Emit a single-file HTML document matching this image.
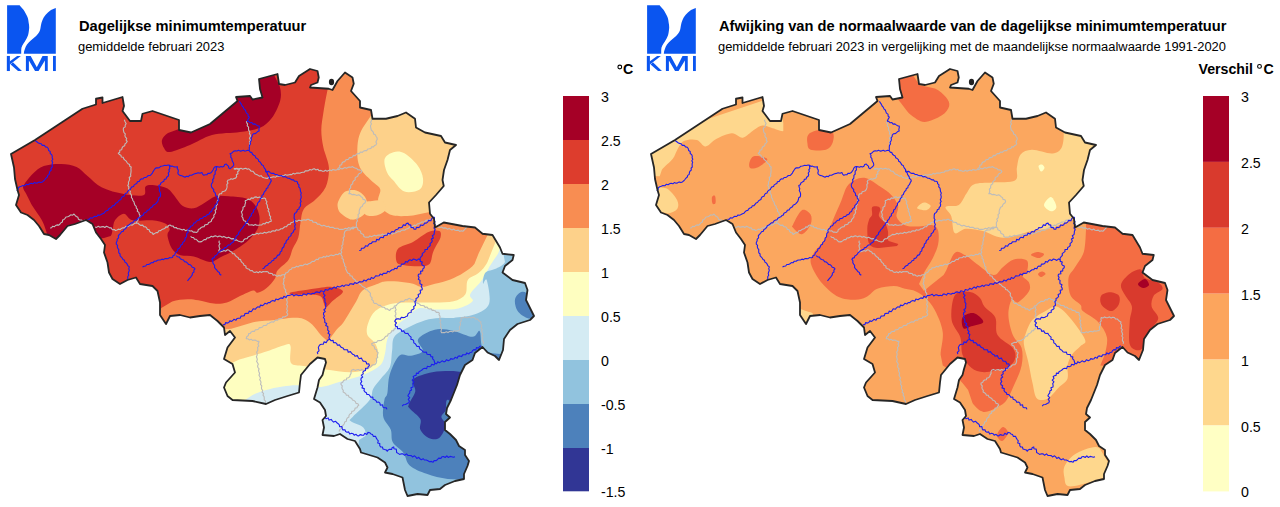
<!DOCTYPE html>
<html><head><meta charset="utf-8">
<style>
html,body{margin:0;padding:0;background:#fff;}
body{width:1280px;height:507px;overflow:hidden;position:relative;font-family:"Liberation Sans",sans-serif;}
svg{position:absolute;left:0;top:0;}
.t{position:absolute;white-space:nowrap;color:#000;}
.b{font-weight:bold;font-size:14.66px;line-height:1;}
.s{font-size:12.92px;line-height:1;}
.lab{position:absolute;font-size:14.2px;line-height:1;white-space:nowrap;}
</style></head><body>
<svg width="1280" height="507" viewBox="0 0 1280 507">
<defs>
<path id="ol" d="M11,154 L35,140 L82.5,108.75 L96,104.5 L96,98.75 L102.5,97.5 L102.5,103 L122.5,97 L124,106 L122.5,111 L130,121 L141,121 L142.5,113.75 L152.5,111 L179,120 L179,130 L191,132.5 L210,124 L237.5,101 L236,97 L250,96 L252.5,99.5 L262.5,97.5 L260,89 L259,79 L277.5,74 L279,84 L285,85 L295,82.5 L299,76 L310,69 L317.5,71 L318.75,77.5 L317.5,82.5 L311,85 L310,87.5 L328.75,88.75 L332.5,90 L337.5,81 L345,72.5 L352.5,77.5 L353.75,83.75 L351,91 L360,101 L360,107.5 L371,110 L372.5,118.75 L386,118.75 L397.5,116 L406,112.5 L415,118.75 L416,127.5 L425,132.5 L441,136 L445,142.5 L456,145 L450,150 L447.5,160 L444,170 L442.5,180 L443.75,186 L436,195 L429,202.5 L430,213.75 L434,218.75 L435,227.5 L443.75,222.5 L462.5,226 L475,227.5 L482.5,233.75 L492.5,235 L500,247.5 L502.5,253.75 L513.75,255 L512.5,260 L505,266 L502.5,272.5 L512.5,280 L525,283 L527.5,290 L526,300 L534,316 L530,320 L517.5,324 L510,330 L504,339 L503,350 L499,360 L495,356 L487.5,352.5 L482.5,347 L475,353 L472.5,360 L465,365 L460,375 L457,385 L455,390 L451,400 L447,408 L446,414 L450,417.5 L445,422 L445,430 L450,434 L456,440 L459,446 L465,450 L465,455 L469,461 L467.5,466 L464,474 L464,479 L455,481 L445,485 L440,489 L430,490 L427.5,495 L417.5,494 L407.5,496 L405,490 L402.5,477.5 L392.5,474 L385,472.5 L387.5,467.5 L385,462.5 L377.5,457.5 L366,454 L361,452.5 L360,449 L355,441 L347.5,439 L340,434 L334,436 L322.5,435 L324,427.5 L322.5,420 L326,416 L325,410 L320,402.5 L314,399 L317.5,387.5 L319,380 L322.5,375 L324,369 L326,362.5 L325,359 L317.5,357.5 L310,364 L301,375 L300,382.5 L299,392.5 L287.5,396 L275,400 L266,404 L252.5,401 L232.5,400 L227.5,396 L224,387.5 L226,382.5 L235,372.5 L232.5,364 L224,359 L227.5,347.5 L235,337.5 L230,331 L225,335 L224,327.5 L217.5,321 L210,315 L200,316 L190,317.5 L180,315 L170,316 L166,324 L160,315 L160,302.5 L157.5,291 L152.5,286 L140,284 L136,277.5 L127.5,280 L120,284 L112.5,279 L109,272.5 L107.5,262.5 L104,252.5 L105,245 L101,239 L96,232.5 L92.5,224 L86,220 L75,224 L67.5,226 L60,235 L56,239 L49,235 L44,234 L39,226 L34,220 L27.5,215 L21,212.5 L16,205 L19,195 L17.5,190 L15,179 L14,167.5 Z"/>
<clipPath id="clip"><use href="#ol"/></clipPath>
<g id="logo" fill="#0a55f0">
<path d="M7.1,5.2 L19.6,5.2 C21,7 22,8 23.3,9.5 C25,12 26,14 27,15.9 C28,18 28.4,20 28.6,22.2 C29,24 29.2,26 29.2,27.6 C29,30 28.8,33 28.1,35 C27.3,37.5 26,39.5 24.9,41.4 C23.8,43 22.8,44.5 22.2,45.7 C21.5,47 21.2,48.5 21.2,50 L21.2,53.7 L7.1,53.7 Z"/>
<path d="M55.8,7.9 C54,8.5 52.5,9 51,10 C49,11.5 47.2,13 45.7,14.8 C44.3,16.5 43.2,18.2 42.5,20.1 C41.7,22 41.2,23.7 40.9,25.4 C40.5,27.5 40.5,29 39.8,30.8 C39,32.8 37.6,34.6 36.1,36.1 C34.5,37.6 32.4,39 30.8,40.4 C29.4,41.7 28,43 27,44.6 C26,46 25.3,47.5 24.9,48.9 C24.3,50.5 23.8,52 23.8,53.7 L55.8,53.7 Z"/>
<rect x="6.84" y="55.94" width="3.06" height="15.09"/>
<path d="M17.1,55.94 L20.84,55.94 L9.9,64.6 L9.9,61.2 Z"/>
<path d="M10.6,64.4 L12.9,62.3 L21.94,71.03 L18.0,71.03 Z"/>
<path d="M25.9,71.03 L25.9,55.94 L30.7,55.94 L36.8,67.3 L42.5,55.94 L47.75,55.94 L47.75,71.03 L44.9,71.03 L44.9,60.5 L38.56,71.03 L35.06,71.03 L28.9,60.5 L28.9,71.03 Z"/>
<rect x="53" y="55.94" width="2.84" height="15.09"/>
</g>
<g id="lines"><g fill="none" stroke="#bcbcbc" stroke-width="1.1" stroke-linejoin="round"><path d="M124.3,119.7 L125.1,121.8 L126.2,123.7 L125.2,125.0 L125.2,126.9 L123.5,127.9 L123.3,129.6 L123.6,131.1 L124.0,132.6 L125.3,133.8 L124.9,135.6 L125.4,137.1 L126.7,138.3 L126.1,140.1 L127.2,141.4 L126.3,142.8 L125.0,143.9 L124.7,145.7 L123.0,146.5 L122.1,147.9 L121.7,149.7 L119.8,150.3 L119.7,152.3 L118.3,153.3 L119.4,154.5 L120.9,155.2 L121.3,157.0 L123.2,157.3 L123.8,159.0 L125.0,160.1 L126.2,161.1 L127.0,162.5 L128.0,163.7 L129.6,164.4 L129.7,166.3 L131.2,167.1 L130.9,168.9 L131.1,170.8 L130.9,172.6 L130.6,174.4 L130.8,176.1 L129.2,177.5 L129.7,179.3 L129.1,180.8 L128.4,182.4 L128.6,184.1 L127.8,185.6 L128.9,186.9 L128.6,188.6 L129.1,190.1 L130.4,191.3 L129.9,193.1 L131.0,194.4 L131.6,195.8 L131.4,197.5 L132.5,198.8 L132.8,200.5 L134.0,201.8 L134.3,203.5 L134.9,205.1 L136.2,206.3 L136.3,208.1 L137.6,209.3 L137.3,211.3 L138.9,212.4 L139.2,214.1 L140.0,215.6 L139.7,217.3 L138.1,218.4 L138.1,220.2 L136.9,221.5 L136.3,223.1"/><path d="M50.0,228.0 L51.6,227.8 L52.6,226.3 L54.5,226.7 L55.6,225.5 L57.0,224.9 L58.8,225.1 L60.0,224.0 L60.9,222.7 L62.4,222.0 L62.6,220.1 L64.0,219.4 L65.1,218.3 L66.0,217.0 L67.7,216.7 L69.3,216.0 L70.7,214.8 L72.6,215.2 L74.0,214.0 L75.1,215.3 L76.3,216.5 L77.9,217.3 L78.4,219.2 L80.0,220.0 L81.5,220.0 L82.9,221.1 L84.6,220.3 L86.0,221.0"/><path d="M95.0,226.9 L96.6,227.4 L98.3,226.3 L99.9,227.2 L101.5,226.9 L103.2,226.6 L104.8,227.5 L106.5,226.3 L108.1,226.9 L109.5,227.9 L111.3,227.9 L112.3,229.7 L114.3,229.5 L115.6,230.6 L117.1,230.0 L118.4,229.1 L120.2,229.5 L121.5,228.4 L122.9,227.7 L124.6,227.9 L125.7,226.3 L127.5,226.6 L129.0,225.9 L130.2,224.7 L132.0,225.2 L133.4,224.2 L134.7,223.3 L136.3,223.1 L138.1,223.2 L139.3,224.6 L140.8,225.4 L142.7,225.1 L143.8,226.8 L145.6,226.9 L146.7,227.9 L147.4,229.4 L149.2,229.7 L149.6,231.4 L150.7,232.5 L152.4,232.9 L153.1,234.4 L154.6,233.6 L156.0,232.6 L157.8,232.6 L158.8,230.8 L160.6,230.6 L161.8,229.6 L163.3,229.0 L164.8,228.5 L165.7,226.9 L167.6,227.1 L168.5,225.6 L170.0,225.0 L171.4,226.0 L173.2,226.1 L174.2,227.8 L176.2,227.5 L177.5,228.8 L179.1,228.8 L180.7,229.2 L182.3,230.0 L184.0,229.3 L185.5,230.7 L187.2,230.0 L188.8,230.6 L190.3,231.0 L191.9,230.8 L193.2,232.1 L194.8,232.0 L196.3,232.5 L197.8,231.6 L198.3,229.6 L200.0,228.8 L201.0,227.6 L202.4,226.9 L204.1,226.8 L204.7,225.0 L206.2,224.6 L207.8,224.3 L208.6,222.6 L210.0,222.1 L211.3,221.3 L211.7,219.6 L212.8,218.3 L214.0,217.0 L213.8,215.1 L215.0,213.8 L215.7,212.3 L215.1,210.5 L216.4,209.2 L216.2,207.5 L216.1,205.9 L217.4,204.5 L217.1,202.8 L217.3,201.2 L218.4,199.8 L217.7,198.0 L218.8,196.6 L218.8,195.0 L219.8,193.7 L221.6,193.6 L222.2,191.7 L223.9,191.3 L225.4,190.8 L226.3,189.4 L226.9,187.9 L227.1,186.3 L226.8,184.6 L228.0,183.2 L227.2,181.5 L228.1,180.0 L229.7,179.8 L231.0,178.7 L232.7,179.2 L234.1,178.5 L235.6,178.1 L236.7,176.7 L236.3,174.8 L238.0,173.7 L237.6,171.7 L239.1,170.5 L239.4,168.8 L237.5,169.0 L235.7,168.6 L233.8,168.8"/><path d="M233.8,168.8 L235.3,169.1 L236.8,168.2 L238.3,169.3 L239.8,168.6 L241.3,168.4 L242.8,169.3 L244.3,168.6 L245.8,168.3 L247.3,169.3 L248.8,168.8 L250.0,169.8 L251.0,171.1 L252.8,171.2 L253.9,172.4 L254.8,173.8 L256.3,174.4 L257.8,175.1 L259.2,176.1 L261.2,175.7 L262.4,177.2 L264.0,177.7 L265.6,178.1 L267.3,178.5 L268.8,177.1 L270.6,177.7 L272.2,177.1 L273.8,176.7 L275.6,177.2 L277.1,175.9 L278.8,176.3 L280.4,176.0 L282.0,175.6 L283.7,175.9 L285.1,174.6 L286.9,175.3 L288.4,174.9 L290.0,174.4 L291.7,174.7 L293.1,173.3 L294.9,174.1 L296.4,173.1 L298.1,173.0 L299.8,173.3 L301.3,172.5 L302.8,172.2 L304.3,172.1 L305.5,170.7 L307.1,170.9 L308.6,170.7 L309.9,169.5 L311.6,170.1 L312.9,169.1 L314.4,168.8 L315.8,169.9 L317.8,169.2 L319.1,170.8 L321.0,170.4 L322.5,171.3 L324.0,171.3 L325.4,170.3 L327.1,171.2 L328.5,170.4 L329.9,169.9 L331.6,170.7 L332.9,169.5 L334.5,169.9 L336.1,170.1 L337.5,169.4 L338.3,168.1 L339.7,167.2 L339.8,165.3 L341.7,164.7 L342.0,163.0 L343.1,161.9 L344.7,161.7 L345.6,160.1 L347.0,159.6 L348.6,159.3 L349.4,157.6 L351.1,157.6 L352.5,156.9 L353.4,155.4 L355.2,155.6 L356.3,154.4 L357.6,153.5 L359.4,153.6 L360.4,152.0 L362.3,152.4 L363.5,151.2 L365.0,150.5 L366.7,150.6 L367.8,149.0 L369.4,148.8 L370.9,148.4 L371.7,146.8 L373.5,146.9 L374.5,145.5 L375.9,145.0 L376.7,143.6 L375.9,141.9 L376.6,140.5 L377.3,139.1 L376.9,137.5 L376.0,136.2 L375.3,134.8 L373.6,134.1 L373.4,132.3 L372.4,131.1 L371.3,130.0 L370.6,127.1 L370.5,125.5 L371.5,124.0 L370.6,122.3 L371.5,120.8 L371.6,119.2"/><path d="M246.4,121.1 L246.7,122.7 L247.6,124.1 L247.2,125.9 L248.6,127.1 L248.5,128.8 L248.7,130.4 L249.9,131.8 L249.4,133.6 L250.3,135.0 L250.3,136.7 L249.4,138.3 L250.5,140.1 L249.4,141.7 L249.7,143.4 L249.5,145.1 L249.3,146.8"/><path d="M245.0,200.6 L246.6,200.2 L248.1,199.1 L250.0,199.6 L251.3,197.9 L253.2,198.4 L254.6,197.1 L256.3,196.9 L257.7,197.8 L259.5,197.0 L260.9,198.1 L262.4,198.5 L264.2,197.9 L265.6,198.8 L265.8,200.3 L266.9,201.7 L266.2,203.4 L267.2,204.8 L267.5,206.3 L267.5,207.9 L268.8,209.2 L268.1,210.9 L269.2,212.3 L269.4,213.8 L269.5,215.4 L270.7,216.7 L270.2,218.4 L271.1,219.8 L271.3,221.3 L269.6,221.6 L268.3,222.9 L266.3,222.3 L265.0,223.9 L263.1,223.5 L261.8,224.9 L260.0,225.0 L258.4,225.2 L256.8,225.3 L255.2,224.4 L253.6,225.5 L252.0,224.7 L250.4,225.0 L248.8,225.0 L248.0,223.5 L246.1,223.2 L245.7,221.3 L244.0,220.8 L243.1,219.4 L242.9,217.9 L241.8,216.5 L242.4,214.8 L241.9,213.3 L241.3,211.9 L242.4,210.6 L243.0,209.0 L243.0,207.2 L244.8,206.2 L245.0,204.4 L245.6,202.5 L245.0,200.6"/><path d="M190.6,236.3 L191.8,237.4 L193.5,237.5 L194.4,239.1 L196.1,239.3 L197.3,240.3 L198.4,241.6 L200.0,241.9 L201.6,241.6 L202.9,240.6 L204.1,239.6 L205.9,239.6 L206.9,238.0 L208.6,237.9 L210.0,237.2 L211.3,236.3 L212.9,236.9 L214.4,236.1 L215.9,235.9 L217.5,236.9 L219.1,236.0 L220.6,236.3 L222.1,237.2 L223.8,236.4 L225.3,237.2 L226.8,238.0 L228.5,237.3 L230.0,238.1 L231.5,238.9 L233.4,238.6 L234.7,240.3 L236.6,239.9 L238.0,240.9 L239.6,241.5 L241.3,241.9 L243.0,241.5 L243.9,239.8 L245.3,238.8 L247.2,238.6 L248.1,236.9 L249.7,236.3 L251.2,235.4 L252.5,234.4 L254.1,234.6 L255.5,234.2 L256.9,233.2 L258.6,234.1 L260.0,233.1 L261.5,233.2 L263.0,233.4 L264.4,232.3 L266.1,233.1 L267.5,232.5 L268.9,231.7 L270.6,232.3 L271.9,231.1 L273.4,230.7 L275.1,231.2 L276.4,229.7 L278.1,230.3 L279.6,229.7 L280.9,228.7 L282.5,228.8 L283.6,227.7 L284.8,226.8 L286.6,226.8 L287.4,225.3 L288.7,224.4 L290.4,224.3 L291.0,222.5 L292.7,222.3 L293.8,221.3 L295.2,220.5 L296.9,221.5 L298.3,220.4 L299.8,220.2 L301.4,220.9 L302.8,220.0 L304.3,219.7 L305.9,220.3 L307.3,219.2 L308.8,219.4 L310.1,220.5 L312.0,220.4 L313.0,222.1 L314.7,222.3 L316.4,222.6 L317.4,224.3 L319.3,224.1 L320.6,225.2 L322.1,226.0 L323.8,225.3 L325.3,226.0 L326.8,226.7 L328.5,226.2 L329.9,227.5 L331.5,227.4 L333.2,227.3 L334.6,228.5 L336.2,228.3 L337.8,228.2 L339.2,229.5 L340.9,229.2 L342.5,229.4 L344.0,228.9 L345.4,228.2 L347.1,229.0 L348.5,227.6 L350.1,228.3 L351.6,227.8 L353.1,227.0 L354.7,227.7 L356.2,227.2 L357.6,228.0 L357.8,229.8 L359.4,230.4 L360.6,231.4 L360.8,233.2 L362.3,233.9 L363.6,234.8 L363.9,236.6 L365.3,237.3 L366.8,237.0 L368.4,237.3 L369.8,236.0 L371.5,236.8 L372.9,236.1 L374.4,235.2 L376.1,236.1 L377.5,235.3 L379.1,235.1 L380.8,235.3 L382.3,234.1 L384.1,235.1 L385.6,234.2 L387.3,234.1 L389.0,234.4 L390.5,233.1 L392.2,234.1 L393.8,233.3 L395.4,233.0 L396.8,232.3 L398.2,231.4 L400.0,231.8 L401.3,230.4 L402.8,229.9 L404.6,230.2 L405.9,229.2 L407.4,228.8 L408.8,228.0 L410.0,226.9 L411.8,227.2 L413.0,226.0 L414.3,225.1 L416.1,225.5 L417.2,224.0 L418.7,223.6 L420.2,223.1 L421.5,222.1 L423.1,222.0 L424.7,221.9 L425.8,220.4 L427.4,220.1 L429.1,220.2 L430.3,219.1"/><path d="M337.5,169.4 L339.1,169.6 L340.4,168.3 L342.1,169.0 L343.5,168.2 L344.9,167.6 L346.6,168.3 L348.0,167.4 L349.5,167.0 L351.1,167.3 L352.5,166.6 L353.7,167.5 L355.1,168.1 L356.7,168.2 L357.6,169.8 L359.3,169.9 L360.8,170.2 L361.9,171.3 L361.1,172.8 L359.5,173.4 L358.3,174.4 L357.8,176.2 L356.3,176.9 L355.1,178.0 L355.2,179.9 L353.7,180.8 L352.7,182.1 L352.7,183.9 L351.2,184.8 L350.6,186.3 L350.7,187.9 L349.3,189.2 L349.8,190.9 L349.5,192.4 L348.8,193.8 L350.5,193.5 L351.9,194.7 L353.6,194.4 L355.2,194.8 L356.8,195.4 L358.5,194.8 L360.0,195.6 L361.1,196.7 L362.5,197.6 L363.0,199.4 L364.9,199.7 L365.6,201.3 L365.1,202.8 L363.6,203.7 L362.7,205.0 L362.2,206.6 L360.5,207.2 L360.0,208.8 L359.3,210.2 L359.1,211.8 L359.4,213.4 L358.0,214.7 L358.3,216.3 L358.1,217.9 L356.8,219.2 L357.5,220.9 L356.5,222.3 L356.3,223.8 L356.5,225.5 L356.2,227.2"/><path d="M356.2,227.2 L354.4,227.3 L353.2,228.9 L351.2,228.4 L350.0,230.0 L348.2,230.0 L346.5,230.3 L345.0,231.3 L344.4,232.9 L344.1,234.6 L344.4,236.4 L343.1,237.9 L343.7,239.8 L343.0,241.4 L342.8,242.9 L343.0,244.5 L341.7,245.9 L342.3,247.6 L341.8,249.1 L340.9,250.5 L341.8,252.2 L340.9,253.6 L341.2,255.2 L342.3,256.5 L341.9,258.4 L343.4,259.5 L343.3,261.3 L343.8,262.8 L344.7,264.2 L344.6,265.9 L346.0,267.1 L345.6,269.0 L346.5,270.4 L347.0,271.9 L348.0,273.2 L349.7,273.8 L350.1,275.8 L352.1,276.1 L352.7,277.9 L353.9,279.0 L355.2,280.0 L356.0,281.5 L357.9,281.7 L358.8,283.0 L359.8,284.3 L361.3,285.0 L362.2,286.3 L363.6,287.1 L365.1,287.8 L365.6,289.5 L367.3,289.9 L368.3,291.1 L369.4,292.2 L370.5,293.4 L370.2,295.2 L370.9,296.6 L372.2,297.8 L371.7,299.6 L373.3,300.7 L373.4,302.3 L374.5,303.5 L376.2,303.4 L377.5,304.4 L378.7,305.4 L380.4,305.2 L381.4,306.7 L382.8,307.3 L384.5,307.3 L385.4,309.0 L387.1,308.8 L388.4,309.7 L389.7,310.5 L390.6,309.1 L392.3,308.5 L393.8,307.8 L394.4,306.0 L396.2,305.6 L397.2,304.2 L398.4,303.2 L399.8,302.3 L401.1,301.3 L402.8,301.4 L404.3,300.9 L405.4,299.5 L407.3,299.9 L408.4,298.6 L410.0,298.3"/><path d="M219.4,240.6 L218.9,242.2 L220.0,243.8 L219.0,245.4 L219.2,247.1 L219.9,248.7 L218.8,250.3 L219.4,251.9 L221.0,251.8 L222.5,251.3 L224.0,250.5 L225.8,251.2 L227.1,249.9 L228.8,250.0 L230.0,251.3 L231.7,251.9 L232.5,253.6 L234.5,253.8 L235.3,255.5 L236.6,256.7 L238.1,257.5 L238.7,259.1 L240.6,259.6 L241.1,261.3 L242.2,262.6 L243.5,263.6 L244.0,265.3 L245.9,265.9 L246.0,267.9 L247.5,268.8 L249.2,269.2 L250.2,270.8 L252.2,270.5 L253.4,272.0 L255.0,272.5 L256.6,271.8 L258.3,272.8 L259.8,271.5 L261.5,272.5 L263.0,271.5 L264.7,271.7 L266.3,271.6 L267.9,271.7 L268.9,273.3 L270.5,273.4 L272.1,273.5 L273.1,275.1 L274.8,274.8 L276.1,275.8 L277.5,276.3 L278.9,275.4 L280.6,276.0 L281.9,274.9 L283.5,274.7 L285.0,274.4 L285.8,272.9 L287.6,272.5 L288.6,271.1 L289.6,269.7 L291.3,269.3 L292.2,267.8 L293.8,267.8 L295.2,267.4 L296.5,266.2 L298.2,266.9 L299.5,265.7 L301.0,265.4 L302.7,265.8 L303.9,264.7 L305.3,264.1 L307.1,264.7 L308.4,263.8 L309.9,263.3 L311.1,262.5 L312.2,261.3 L314.0,261.5 L315.2,260.4 L316.3,259.3 L318.2,259.6 L319.0,258.0 L320.6,257.7 L322.2,257.7 L323.6,256.5 L325.4,257.3 L326.7,255.9 L328.5,256.5 L329.9,255.6 L331.4,255.0 L333.2,255.7 L334.7,255.0 L336.1,254.2 L337.9,254.8 L339.2,253.4 L340.9,253.6"/><path d="M285.0,274.4 L284.5,275.9 L284.9,277.6 L283.5,279.0 L284.0,280.7 L283.6,282.3 L283.1,283.8 L284.2,285.2 L284.0,287.1 L284.5,288.7 L285.8,290.0 L285.4,291.9 L286.6,293.3 L286.9,295.0 L286.5,296.6 L287.5,298.2 L286.5,299.8 L287.1,301.3 L287.3,302.9 L286.5,304.5 L287.6,306.1 L287.1,307.7 L286.7,309.3 L287.6,310.8 L286.6,312.4 L287.8,314.0 L287.2,315.6 L285.8,316.2 L284.5,317.0 L282.9,316.9 L281.9,318.5 L280.3,318.5 L278.7,318.7 L277.7,320.2 L276.0,320.0 L274.7,320.8 L273.6,322.1 L271.8,321.8 L270.4,322.4 L269.2,323.3 L267.6,323.5 L266.7,325.1 L265.2,325.5 L263.5,325.5 L262.5,327.0 L261.1,327.6 L259.4,327.6 L258.4,329.2 L256.9,329.6 L255.3,329.8 L254.4,331.4 L252.7,331.3 L251.3,331.9 L250.3,333.4 L248.7,333.6 L248.4,335.5 L246.7,336.8 L246.2,338.7 L247.8,338.8 L249.3,339.9 L251.1,339.2 L252.5,340.4 L254.3,340.0 L255.9,340.4 L257.3,341.4 L259.0,341.3 L258.7,342.8 L258.0,344.3 L258.8,346.0 L257.5,347.4 L257.8,349.0 L257.7,350.6 L256.6,352.0 L257.2,353.7 L257.1,355.2 L256.4,356.7 L257.0,358.2 L257.3,359.7 L256.6,361.4 L257.5,362.8 L258.3,364.3 L257.6,365.9 L257.9,367.5 L259.1,368.8 L258.5,370.5 L259.0,372.0 L259.6,373.5 L259.0,375.2 L259.7,376.6 L260.5,378.1 L259.7,379.8 L260.7,381.2 L261.0,382.7 L260.5,384.4 L261.8,385.8 L261.5,387.4 L261.6,389.0 L262.7,390.4 L262.1,392.2 L263.6,393.4 L263.0,395.2 L264.1,396.6 L264.3,398.1 L264.2,399.8 L265.6,401.1 L265.4,402.8"/><path d="M395.6,306.6 L395.3,308.2 L396.2,309.7 L395.0,311.3 L395.8,312.8 L395.9,314.4 L395.0,315.9 L396.0,317.5 L395.8,319.1 L395.0,320.6 L396.0,322.2 L395.5,323.7 L395.2,325.3 L396.2,326.8 L395.6,328.4 L394.2,329.1 L393.6,330.8 L391.6,330.9 L391.0,332.6 L389.7,333.4 L388.1,334.0 L387.6,335.9 L385.9,336.2 L384.8,337.3 L384.0,338.8 L382.5,339.4 L381.2,340.5 L379.4,340.6 L377.6,340.8 L376.5,342.5 L374.6,342.2 L373.1,343.0 L371.6,343.8 L372.2,345.3 L373.9,346.0 L374.5,347.4 L374.9,349.1 L376.7,349.7 L376.7,351.6 L378.1,352.5 L377.7,354.0 L377.2,355.5 L377.8,357.3 L376.3,358.6 L376.7,360.3 L376.5,361.9 L376.0,363.4 L374.9,364.7 L373.1,364.8 L371.7,365.6 L370.7,367.0 L368.8,367.0 L368.0,368.8 L366.2,368.9 L365.0,370.0 L363.4,370.3 L361.7,369.4 L360.1,370.5 L358.4,369.6 L356.8,369.8 L355.2,370.4 L353.5,369.4 L351.9,370.0 L351.0,371.5 L351.1,373.4 L350.2,374.9 L349.7,376.6 L348.6,377.7 L346.9,378.0 L346.3,379.8 L344.5,380.0 L343.3,381.0 L342.6,382.6 L341.0,383.1 L341.1,384.6 L342.3,385.9 L341.9,387.5 L342.3,389.0 L343.3,390.3 L343.1,391.9 L344.5,392.7 L345.7,393.6 L346.4,395.2 L348.3,395.3 L349.0,397.1 L350.4,397.7 L351.8,398.5 L352.5,400.1 L354.1,400.6 L355.4,401.6 L356.0,403.4 L357.9,403.8 L358.8,405.3 L357.5,406.2 L357.0,407.8 L355.1,408.1 L354.7,409.9 L353.5,411.0 L351.8,411.4 L351.5,413.3 L350.0,414.0 L349.0,415.3 L348.9,417.1 L347.3,418.0 L346.5,419.4 L346.4,421.2 L344.7,422.0 L344.3,423.7 L343.4,425.0 L342.1,426.0 L342.1,427.9 L340.8,428.9 L339.5,430.0 L339.1,431.6"/><path d="M410.0,298.3 L411.2,299.5 L413.1,299.6 L413.8,301.4 L415.8,301.4 L416.7,302.9 L418.4,303.4 L419.7,304.4 L420.9,305.5 L422.6,305.5 L424.1,305.9 L425.1,307.4 L427.0,307.0 L428.0,308.4 L429.5,309.0 L431.2,308.8 L432.2,310.4 L433.9,310.4 L435.3,310.9 L436.3,312.4 L438.1,312.2 L439.4,313.1 L439.0,314.7 L440.0,316.1 L440.0,317.6 L439.5,319.2 L440.8,320.6 L440.0,322.2 L440.6,323.7 L441.0,325.2 L440.4,326.8 L441.5,328.2 L441.4,329.7 L440.9,331.3 L441.6,332.8 L443.2,332.6 L444.8,332.6 L446.3,331.7 L448.0,332.6 L449.5,331.5 L451.1,331.3 L452.8,331.9 L454.3,330.8 L455.9,331.2 L457.5,330.8 L459.1,330.6 L459.9,329.1 L459.3,327.3 L460.1,325.7 L460.6,324.1 L459.9,322.3 L461.3,320.9 L460.9,319.1 L461.3,317.5 L462.9,318.1 L464.6,316.9 L466.2,317.8 L467.9,317.6 L469.5,316.9 L471.1,318.1 L472.8,317.2 L474.4,317.5 L475.4,318.9 L477.2,319.0 L478.4,320.1 L479.5,321.3 L481.0,321.9 L480.6,323.5 L481.6,325.0 L481.6,326.6 L481.0,328.2 L482.3,329.7 L481.6,331.3 L482.1,332.8 L482.7,334.4 L481.8,336.0 L482.9,337.5 L482.5,339.1 L482.4,340.7 L483.5,342.2 L483.1,343.8"/><path d="M434.0,226.0 L435.4,226.9 L437.1,226.0 L438.5,227.3 L440.0,227.5 L441.7,226.9 L443.0,228.1 L444.6,227.9 L446.1,228.1 L447.5,229.2 L449.2,228.4 L450.6,229.2 L452.0,229.9 L453.8,229.1 L455.1,230.3 L456.7,230.5 L458.3,230.1 L459.7,231.4 L461.3,230.8 L462.8,231.3 L464.2,230.0 L465.5,228.5 L466.9,227.2"/></g><g fill="none" stroke="#1c1cf0" stroke-width="1.1" stroke-linejoin="round"><path d="M34.5,140.4 L36.2,141.3 L37.7,142.5 L39.4,143.4 L41.2,143.8 L42.3,145.4 L44.3,145.3 L45.5,146.9 L47.3,147.3 L48.3,148.7 L48.6,150.5 L50.2,151.5 L50.2,153.5 L51.7,154.6 L52.3,156.2 L52.1,157.7 L52.8,159.3 L51.8,160.8 L52.7,162.4 L52.1,163.9 L52.2,165.5 L52.3,167.0 L51.1,168.2 L51.3,170.1 L49.9,171.2 L49.4,172.7 L49.2,174.4 L47.7,175.4 L47.3,177.0 L46.0,178.1 L44.9,179.5 L43.8,180.8 L42.4,181.9 L40.9,182.6 L39.1,181.9 L37.6,182.9 L36.0,183.2 L34.3,182.6 L32.9,183.8 L31.1,183.2 L29.6,183.8 L28.1,184.7 L26.2,184.3 L24.8,185.8 L22.9,185.5 L21.3,186.3 L19.7,186.8 L18.3,187.8 L18.1,189.7 L16.8,190.7"/><path d="M87.5,219.4 L89.2,219.3 L90.3,217.8 L92.2,218.1 L93.5,217.1 L94.9,216.3 L96.7,216.5 L97.8,215.1 L99.6,215.2 L101.1,214.6 L102.5,213.8 L104.0,213.2 L105.0,211.9 L106.1,210.8 L107.8,210.4 L108.6,208.9 L110.0,208.1 L111.5,207.6 L112.2,205.9 L114.0,205.7 L115.0,204.4 L116.0,203.1 L117.5,202.5 L118.3,201.2 L119.4,200.2 L120.9,199.5 L121.4,197.8 L122.4,196.7 L124.0,196.2 L124.6,194.6 L125.5,193.5 L127.1,192.9 L127.6,191.3 L128.8,190.3 L130.3,189.6 L130.9,188.1 L131.9,186.9 L133.6,186.5 L134.2,184.9 L135.5,184.1 L136.9,183.4 L137.4,181.7 L139.2,181.4 L140.0,180.0 L141.2,178.9 L143.0,179.0 L144.1,177.5 L145.8,177.5 L147.1,176.6 L148.3,175.5 L150.1,175.5 L151.3,174.4 L152.4,173.1 L153.1,171.6 L154.0,170.2 L155.0,168.8 L156.3,167.8 L158.1,167.9 L159.6,167.4 L160.9,166.2 L162.5,166.0 L164.3,165.4 L166.3,165.5 L168.1,165.0 L169.6,165.3 L170.8,166.4 L172.5,166.1 L173.8,166.9 L175.7,167.0 L177.5,166.9 L177.2,168.5 L178.2,169.9 L178.3,171.4 L177.8,173.0 L178.4,174.4 L179.9,175.4 L181.8,175.7 L183.4,176.4 L185.0,177.2 L186.5,176.2 L188.4,176.6 L189.7,175.2 L191.5,175.2 L193.0,174.4 L194.6,173.7 L196.3,173.4 L198.1,172.7 L200.1,173.3 L201.9,172.5 L202.6,174.1 L203.8,175.3 L205.3,174.7 L207.0,174.6 L208.1,173.2 L209.9,173.4 L211.3,172.5 L212.3,171.2 L213.2,169.7 L213.8,168.1 L215.0,166.9 L216.5,166.5 L218.0,166.7 L219.5,167.3 L221.0,166.4 L222.5,166.9 L223.9,166.2 L224.7,164.6 L226.3,164.0 L227.2,165.3 L228.5,166.1 L228.7,167.9 L230.0,168.8 L231.3,167.6 L232.8,166.5 L233.8,165.0 L233.5,163.3 L232.7,161.8 L232.0,160.2 L231.9,158.5 L230.7,157.1 L231.0,155.3 L230.0,153.8 L231.5,153.3 L232.7,152.2 L233.9,151.1 L235.5,150.7 L237.0,151.0 L238.6,150.2 L240.1,151.1 L241.6,150.9 L243.2,150.3 L244.7,151.1 L246.2,150.8 L247.8,150.2 L249.3,150.7"/><path d="M239.4,101.4 L240.4,102.9 L241.4,104.4 L242.1,106.0 L243.4,107.3 L243.9,108.9 L245.3,110.0 L245.9,111.6 L246.4,113.1 L248.0,114.1 L248.1,116.0 L249.3,117.2 L248.2,119.1 L247.3,121.1 L248.9,121.5 L250.1,122.8 L251.9,122.5 L253.1,124.1 L254.9,123.9 L256.2,124.9 L257.6,125.8 L259.2,126.1 L259.3,127.7 L258.8,129.4 L259.2,131.0 L257.7,131.6 L256.5,132.7 L255.2,133.6 L253.4,133.8 L252.3,135.0 L252.2,136.5 L251.1,137.8 L251.4,139.5 L251.0,141.0 L250.1,142.3 L250.5,144.0 L249.5,145.3 L249.3,146.8 L249.3,148.8 L249.3,150.7"/><path d="M249.3,150.7 L250.1,152.1 L251.9,152.6 L252.5,154.3 L253.8,155.3 L255.2,156.1 L255.7,157.8 L257.2,158.6 L258.4,159.6 L258.7,161.3 L260.1,162.1 L261.0,163.3 L261.6,164.8 L263.2,165.4 L263.8,166.9 L264.6,168.4 L265.6,169.7 L265.6,171.6 L267.2,172.7 L267.5,174.4 L268.4,175.6 L269.2,176.9 L269.4,178.5 L270.8,179.4 L271.3,180.9 L270.2,182.7 L269.4,184.7 L268.1,185.8 L267.9,187.7 L266.3,188.6 L265.9,190.4 L264.6,191.5 L263.8,193.0 L263.4,194.5 L261.9,195.4 L261.9,197.2 L260.7,198.2 L260.0,199.6 L259.7,201.2 L258.3,202.2 L257.5,203.5 L257.4,205.2 L256.3,206.3 L255.7,207.7 L255.1,209.1 L253.6,210.0 L253.6,211.7 L252.7,212.9 L251.4,213.9 L251.4,215.7 L250.0,216.6 L249.5,218.1 L248.8,219.4 L247.5,220.5 L247.2,222.3 L245.5,223.1 L245.1,224.9 L243.8,225.9 L243.0,227.4 L242.0,228.7 L240.7,229.8 L240.0,231.3 L238.7,232.5 L238.4,234.3 L237.1,235.4 L236.0,236.7 L235.7,238.6 L234.0,239.4 L233.8,241.3 L232.5,242.5 L231.1,243.3 L230.2,244.8 L228.4,245.0 L227.2,246.2 L226.1,247.4 L224.4,247.8 L223.6,249.4 L221.9,249.9 L220.5,250.7 L219.4,251.9 L218.1,252.7 L217.4,254.1 L216.2,255.2 L214.8,255.9 L214.4,257.6 L212.7,258.1 L211.9,259.4 L212.9,260.8 L212.8,262.7 L213.7,264.1 L214.7,265.5 L214.5,267.4 L215.6,268.8 L216.8,270.0 L217.7,271.5 L219.4,272.4 L219.8,274.3 L221.3,275.3"/><path d="M265.6,170.6 L267.0,171.6 L268.9,171.4 L270.2,172.7 L271.8,173.4 L273.6,173.3 L275.0,174.4 L276.7,174.5 L278.2,175.3 L279.8,175.7 L281.6,175.6 L283.0,176.9 L284.7,176.5 L286.3,177.2 L287.5,178.2 L289.2,178.2 L290.5,178.9 L291.8,179.9 L293.5,179.7 L294.5,181.2 L296.1,181.3 L297.5,181.9 L297.6,183.7 L299.0,184.9 L298.7,186.8 L300.0,188.2 L300.3,189.9 L300.5,191.6 L301.3,193.1 L300.7,194.7 L301.2,196.4 L301.1,198.1 L300.3,199.7 L301.2,201.4 L300.1,203.0 L300.7,204.7 L300.3,206.3 L299.2,207.4 L299.0,209.1 L297.3,209.8 L297.0,211.4 L296.0,212.6 L294.7,213.5 L294.2,215.0 L294.2,216.6 L294.1,218.2 L295.0,219.7 L294.3,221.3 L294.6,222.9 L295.4,224.4 L294.6,226.1 L295.0,227.6 L295.2,229.2 L293.9,230.1 L293.5,231.7 L292.5,232.9 L291.2,233.8 L291.0,235.6 L289.8,236.6 L288.5,237.5 L288.3,239.2 L286.9,240.1 L286.1,241.4 L285.9,243.0 L284.4,243.9 L284.2,245.5 L283.7,247.0 L282.4,248.0 L281.9,249.5 L281.7,251.1 L280.2,252.0 L280.0,253.6 L279.1,254.9 L277.4,255.4 L276.8,256.9 L275.8,258.1 L274.1,258.5 L273.7,260.3 L272.0,260.7 L271.2,262.1 L270.0,263.1 L268.4,263.7 L267.7,265.2 L266.2,265.8 L264.9,266.8 L264.0,268.2 L262.5,268.8"/><path d="M170.0,165.0 L169.5,166.6 L169.9,168.3 L168.7,169.8 L169.4,171.5 L168.2,173.0 L168.7,174.7 L168.1,176.3 L166.6,177.2 L166.1,179.0 L164.3,179.4 L163.8,181.3 L162.3,182.1 L160.9,183.0 L160.3,184.8 L158.8,185.6 L159.2,187.2 L159.8,188.6 L159.3,190.4 L160.0,191.9 L160.5,193.4 L160.6,195.0 L160.3,196.7 L158.7,197.8 L158.4,199.5 L157.9,201.1 L156.9,202.5 L155.8,203.6 L154.7,204.6 L153.1,205.2 L152.5,206.7 L151.1,207.5 L149.9,208.4 L149.1,209.9 L147.3,210.2 L146.7,211.8 L145.4,212.6 L143.9,213.2 L143.4,215.0 L141.9,215.6 L140.8,216.8 L139.2,217.4 L137.8,218.2 L137.0,219.8 L135.2,220.1 L133.9,221.0 L133.0,222.6 L131.3,222.9 L130.1,224.0 L128.8,225.0 L127.3,225.8 L126.6,227.5 L125.4,228.7 L123.9,229.5 L123.3,231.2 L121.5,231.8 L120.6,233.3 L119.4,234.4 L118.3,235.8 L118.6,237.8 L117.2,239.1 L117.1,241.0 L116.3,242.5 L116.3,244.1 L117.6,245.3 L117.3,246.9 L117.8,248.4 L118.8,249.6 L118.7,251.3 L118.8,252.8 L120.1,254.0 L120.0,255.6 L121.1,256.8 L122.2,258.0 L123.0,259.5 L124.5,260.3 L124.9,262.1 L126.4,263.0 L127.3,264.4 L128.0,265.9 L129.4,266.9 L128.7,268.5 L129.3,270.2 L128.8,271.8 L128.2,273.4 L128.7,275.2 L127.7,276.7 L127.8,278.4 L127.5,280.0"/><path d="M216.9,166.9 L216.2,168.3 L216.5,169.9 L215.2,171.1 L215.1,172.6 L215.2,174.2 L213.9,175.4 L213.9,177.0 L213.7,178.5 L212.5,179.7 L213.0,181.4 L212.3,182.8 L211.4,184.1 L211.3,185.6 L211.7,187.1 L212.6,188.4 L213.7,189.5 L213.6,191.3 L214.8,192.4 L215.5,193.7 L215.6,195.4 L217.2,196.3 L217.2,198.0 L218.1,199.2 L218.8,200.6 L217.5,201.7 L217.1,203.4 L215.9,204.5 L214.8,205.7 L214.5,207.5 L213.0,208.4 L212.1,209.8 L211.6,211.4 L209.9,212.2 L209.4,213.8 L208.1,214.6 L206.6,215.0 L205.7,216.5 L204.0,216.5 L202.9,217.7 L201.7,218.5 L200.0,218.6 L199.2,220.2 L197.5,220.3 L196.3,221.3 L195.5,222.7 L193.9,223.1 L193.2,224.6 L192.3,225.8 L190.6,226.3 L190.0,227.8 L188.8,228.8 L187.9,230.3 L188.2,232.2 L186.8,233.5 L186.6,235.2 L186.5,236.9 L185.1,238.2 L185.0,240.0 L184.2,241.4 L182.8,242.4 L182.5,244.2 L180.9,245.1 L180.3,246.7 L179.5,248.2 L177.8,249.0 L177.6,250.8 L176.3,251.9 L175.2,253.2 L174.8,254.9 L173.0,255.8 L172.5,257.5 L171.0,257.8 L169.4,257.6 L168.1,258.7 L166.5,258.5 L164.9,258.6 L163.6,259.6 L161.9,259.1 L160.5,260.0 L159.0,260.0 L157.5,260.3 L156.2,261.3 L154.3,261.2 L153.2,262.7 L151.4,262.6 L150.0,263.7 L148.6,264.5 L146.8,264.5 L145.7,266.0 L144.0,266.2 L142.5,266.9"/><path d="M176.3,255.6 L177.5,256.8 L179.4,257.1 L180.3,258.7 L181.8,259.4 L183.5,260.0 L184.4,261.6 L186.2,262.0 L187.5,263.1 L188.5,264.4 L190.2,264.7 L191.4,265.8 L192.2,267.3 L193.9,267.6 L195.0,268.8 L193.9,270.1 L194.0,272.0 L192.4,273.1 L192.3,274.9 L191.3,276.3 L190.0,277.8 L188.7,279.3 L187.5,280.9"/><path d="M223.1,324.6 L224.8,324.8 L225.6,322.6 L227.4,323.1 L228.8,322.5 L229.8,320.9 L231.6,321.4 L232.9,320.5 L234.0,319.2 L236.0,320.2 L237.0,318.5 L238.5,318.2 L240.3,318.2 L241.0,316.1 L242.8,316.0 L244.4,315.6 L245.0,313.5 L246.7,313.4 L248.5,313.3 L249.1,311.1 L251.2,311.7 L252.3,310.3 L253.2,308.8 L255.4,309.3 L256.4,307.9 L257.7,306.8 L259.7,307.3 L260.4,305.1 L262.5,305.6 L263.8,304.8 L264.9,303.2 L267.0,304.0 L268.1,302.5 L269.9,302.6 L271.2,301.2 L272.8,300.4 L274.8,301.2 L275.9,299.0 L278.0,299.8 L279.4,298.8 L280.9,297.9 L282.8,298.4 L283.9,296.3 L286.1,297.5 L287.2,295.5 L289.0,295.5 L290.6,295.0 L292.2,294.2 L293.8,296.0 L295.5,294.9 L297.1,294.9 L298.7,295.8 L300.3,295.2 L302.0,295.8 L303.2,294.1 L304.8,294.1 L306.5,295.1 L307.8,293.3 L309.4,293.7 L311.1,294.3 L312.5,293.2 L314.3,293.5 L315.8,292.1 L317.5,291.9 L319.5,292.7 L320.9,290.8 L322.7,291.2 L324.4,291.5 L325.3,289.5 L327.1,290.1 L328.6,289.7 L329.7,288.3 L331.6,289.3 L332.8,288.1 L334.2,287.0 L336.1,288.3 L337.3,286.2 L339.2,287.0 L340.7,286.5 L342.1,285.3 L344.0,286.4 L345.3,285.0 L347.0,285.0 L348.8,285.5 L350.0,283.7 L351.7,283.9 L353.5,284.4 L354.8,282.5 L356.6,283.5 L358.1,282.7 L359.6,281.6 L361.3,282.0 L362.8,281.6 L363.9,280.1 L366.0,281.1 L367.2,279.8 L368.5,278.9 L370.4,279.5 L371.3,277.4 L373.4,278.4 L374.6,277.3 L375.7,275.7 L377.5,276.0 L379.1,275.8 L380.2,274.1 L382.3,275.1 L383.2,273.3 L385.0,273.4 L386.7,273.3 L387.6,271.2 L389.6,272.0 L390.7,270.7 L392.1,269.7 L393.8,269.8 L394.7,268.2 L396.9,268.8 L397.6,266.9 L398.9,266.0 L400.9,266.2 L401.4,264.0 L403.3,264.1 L404.8,263.4 L405.5,261.5 L407.7,262.1 L408.6,260.5 L410.0,259.7 L411.7,260.6 L413.4,259.0 L415.1,259.5 L416.8,260.4 L418.5,258.9 L420.2,259.7 L420.1,258.0 L421.2,256.6 L422.4,255.3 L422.2,253.6 L423.5,252.6 L424.9,251.6 L425.0,249.5 L427.4,249.5 L427.7,247.5 L429.1,246.6 L430.3,245.5 L430.0,243.7 L431.5,242.4 L432.3,241.0 L431.4,239.0 L433.4,237.9 L432.3,235.8 L434.0,234.6 L434.3,233.0 L434.4,231.3 L435.2,229.7 L434.0,228.1 L434.3,226.5 L435.3,224.9 L433.6,223.4 L435.0,221.8 L434.2,220.2 L434.3,218.6 L434.4,217.0"/><path d="M359.2,250.5 L360.9,250.3 L361.5,248.2 L363.4,248.3 L364.7,247.5 L365.5,245.8 L367.7,246.3 L368.5,244.6 L369.7,243.6 L371.4,243.4 L372.4,241.9 L374.2,241.7 L376.0,241.6 L376.6,239.4 L378.9,240.0 L379.7,238.2 L381.1,237.3 L383.2,237.7 L384.0,235.7 L385.6,235.3 L387.2,235.1 L387.9,233.1 L390.0,234.0 L391.0,232.5 L392.2,231.5 L394.1,232.0 L395.0,230.4 L396.3,229.5 L397.8,229.2 L398.8,227.6 L400.8,227.7 L402.4,227.0 L403.2,224.9 L405.4,225.4 L406.3,223.6 L408.0,223.1 L408.9,224.6 L410.8,225.1 L411.0,227.4 L413.3,227.6 L414.1,229.2 L415.8,229.3 L416.5,227.2 L418.4,227.6 L419.8,227.0 L420.5,225.0 L422.4,225.4 L423.8,224.8 L424.6,223.1 L426.3,223.1 L427.7,222.1 L428.5,220.4 L430.9,220.8 L431.6,218.8 L432.7,217.5 L434.4,217.0"/><path d="M323.7,292.2 L323.5,293.9 L325.0,295.4 L323.6,297.3 L324.9,298.8 L324.9,300.5 L324.9,302.1 L326.0,303.7 L325.6,305.4 L325.8,307.0 L325.5,308.5 L323.9,309.8 L325.3,311.6 L323.6,312.8 L323.5,314.4 L324.4,316.1 L323.4,317.5 L324.5,318.8 L324.8,320.5 L324.8,322.4 L326.7,323.4 L325.7,325.6 L327.8,326.6 L327.8,328.4 L327.7,330.1 L329.1,331.4 L328.0,333.3 L329.9,334.5 L329.2,336.3 L328.9,338.0 L330.0,339.4 L328.3,339.7 L327.1,340.9 L326.3,342.6 L324.0,341.9 L323.4,344.1 L321.7,344.3 L320.1,344.6 L319.0,346.0 L318.3,347.6 L318.8,349.3 L319.0,350.9 L317.3,352.4 L317.9,354.1"/><path d="M330.0,339.4 L330.9,340.8 L333.1,340.4 L333.5,342.7 L335.4,342.6 L336.7,343.5 L337.4,345.3 L339.6,344.9 L340.4,346.5 L341.6,347.6 L343.1,348.1 L344.1,349.6 L345.9,349.7 L347.6,349.9 L348.1,352.2 L350.4,351.6 L351.4,352.9 L352.5,354.2 L354.1,354.7 L355.0,356.3 L357.3,355.6 L358.1,357.3 L359.1,358.7 L361.4,358.1 L362.3,359.7 L363.2,361.1 L365.0,361.3 L366.3,362.2 L366.6,364.0 L368.9,363.9 L369.4,365.6 L368.2,366.6 L367.7,368.3 L365.5,368.3 L365.5,370.5 L363.9,371.1 L362.8,372.2 L363.3,373.9 L361.3,375.1 L362.7,377.0 L361.1,378.3 L360.9,379.9 L361.8,381.7 L360.6,383.1 L361.0,384.7 L362.7,385.7 L362.0,387.9 L364.3,388.6 L364.0,390.6 L365.0,391.9 L366.4,392.7 L366.9,394.5 L368.9,394.5 L369.9,395.8 L370.7,397.2 L372.8,397.1 L373.1,399.3 L374.7,399.7 L376.0,400.6 L376.7,402.3 L378.8,402.1 L379.9,403.2 L380.3,405.2 L382.6,404.8 L382.9,407.0 L384.2,407.7 L386.3,407.7 L386.9,409.4"/><path d="M420.2,259.7 L420.2,261.4 L422.3,262.0 L421.6,264.0 L422.5,265.3 L424.3,266.1 L424.2,267.8 L422.8,268.9 L422.7,270.9 L420.5,271.4 L420.9,273.8 L418.5,274.2 L418.1,276.0 L419.1,277.3 L418.3,279.3 L420.1,280.4 L419.9,282.1 L420.0,283.8 L422.0,284.8 L421.2,286.7 L422.2,288.1 L422.2,289.8 L420.1,290.4 L420.6,292.4 L420.0,293.8 L418.1,294.5 L418.6,296.5 L417.6,297.7 L416.0,298.5 L416.1,300.3 L414.9,301.7 L415.3,303.5 L415.5,305.3 L413.6,306.6 L414.1,308.4 L412.9,309.6 L411.2,310.2 L411.2,312.5 L409.1,312.8 L407.9,313.9 L407.5,315.9 L405.9,316.6 L404.6,317.5 L403.0,317.6 L401.3,317.2 L400.3,319.2 L398.6,318.9 L396.9,318.7 L395.6,319.7 L394.7,321.4 L396.5,323.0 L395.2,324.6 L395.6,326.3 L397.3,326.6 L397.7,328.8 L399.8,328.6 L401.1,329.4 L401.7,331.4 L403.9,330.9 L404.6,332.7 L406.0,333.5 L408.0,333.4 L408.8,335.0 L409.9,336.2 L411.1,337.2 L410.9,339.3 L412.9,339.7 L413.7,341.1 L413.8,342.9 L415.3,343.8 L416.2,345.1 L417.0,346.5 L419.2,346.4 L419.5,348.3 L420.4,349.6 L421.9,350.3 L422.9,351.7 L424.4,352.3 L426.4,352.1 L427.0,354.2 L428.7,354.5 L430.4,354.6 L431.0,356.8 L432.8,356.9 L432.6,358.8 L434.0,360.1 L434.4,361.8 L435.0,363.4 L433.9,364.9 L431.7,364.2 L430.9,366.1 L429.4,366.7 L427.3,366.3 L426.7,368.6 L424.7,368.2 L423.1,368.8 L421.9,370.0 L420.6,370.9 L419.1,371.5 L418.5,373.4 L416.4,373.1 L416.1,375.4 L414.4,375.7 L413.1,376.6 L414.0,378.3 L412.2,380.1 L414.0,381.8 L412.7,383.6 L413.1,385.3 L413.0,387.0 L410.9,387.8 L411.6,390.0 L409.8,390.9 L409.8,392.8 L408.8,394.1 L407.9,395.8 L409.7,397.6 L408.2,399.3 L409.4,401.1 L408.8,402.8 L407.2,403.6 L405.5,404.5 L403.5,404.7 L402.2,406.1"/><path d="M435.0,363.4 L436.7,363.8 L437.7,361.8 L439.5,362.8 L440.8,361.9 L442.1,360.8 L443.9,361.9 L445.3,361.3 L446.5,359.7 L448.3,360.8 L449.7,360.1 L450.8,358.6 L452.5,359.1 L454.1,358.8 L455.1,357.2 L457.2,358.3 L458.1,356.3 L459.6,355.9 L461.6,356.6 L462.6,354.9 L464.2,354.7 L465.8,354.6 L466.8,352.9 L468.9,353.9 L470.0,352.5 L471.7,352.2 L472.6,350.6 L473.8,349.6 L475.9,349.9 L476.4,347.6 L478.6,348.1 L479.5,346.6 L481.0,345.9"/><path d="M324.8,417.3 L326.0,418.7 L328.2,417.9 L329.0,420.1 L331.2,419.4 L332.3,420.8 L333.6,422.1 L335.7,421.3 L336.9,422.8 L338.2,423.7 L339.3,424.8 L339.6,426.7 L341.9,426.6 L342.2,428.4 L342.9,429.9 L345.1,429.9 L345.6,431.6 L347.0,432.3 L348.7,431.9 L349.7,433.9 L351.6,433.2 L353.0,433.7 L354.2,435.2 L356.1,434.3 L357.3,435.6 L358.8,435.9 L360.1,434.6 L362.0,435.1 L363.7,435.2 L364.8,433.3 L366.8,434.4 L367.9,432.4 L369.7,432.7 L370.9,433.9 L372.6,434.6 L373.3,436.4 L375.5,436.3 L376.3,438.1 L377.2,439.5 L378.3,440.8 L377.7,442.9 L379.8,443.6 L379.7,445.5 L380.6,446.9 L382.4,447.0 L383.0,449.0 L384.6,449.5 L386.2,449.9 L387.2,451.3 L388.2,449.9 L389.6,449.2 L391.7,449.4 L392.2,447.4 L393.8,446.9 L393.9,448.7 L396.2,449.1 L396.5,450.7 L396.6,452.5 L398.1,453.4 L399.6,454.4 L401.4,453.7 L403.1,453.9 L404.6,455.3 L406.5,453.9 L407.9,455.4 L409.6,455.5 L411.3,455.6 L412.5,456.9 L414.5,455.8 L415.7,456.9 L416.8,458.4 L418.8,457.3 L419.9,458.8 L421.3,459.7 L423.2,458.7 L424.4,460.0 L426.3,460.0 L427.9,460.8 L429.5,461.7 L431.4,461.4 L433.1,462.2 L434.1,460.6 L436.2,460.6 L437.5,459.5 L438.7,458.1 L440.9,458.4 L441.9,456.7 L443.5,456.5 L445.2,457.5 L446.8,455.8 L448.4,457.5 L450.1,456.4 L451.7,456.8 L453.4,457.3 L455.0,456.7"/></g><ellipse cx="331.5" cy="82" rx="2.6" ry="3.2" fill="#222"/></g>
</defs>
<!-- left map -->
<g>
<g clip-path="url(#clip)">
<use href="#ol" fill="#dd3d2d"/>
<path fill="#f88d52" d="M328.0,40.0 L327.8,88.4 L325.6,99.4 C324.9,103.4 324.1,107.4 323.4,112.5 C322.7,117.6 321.3,124.2 321.3,130.0 C321.3,135.8 322.1,141.2 323.4,147.5 C324.7,153.8 328.5,160.9 328.9,167.5 C329.3,174.1 328.0,181.7 325.6,187.2 C323.2,192.7 318.3,196.7 314.7,200.3 C311.1,203.9 306.2,205.3 303.8,209.0 C301.4,212.7 301.4,217.4 300.5,222.2 C299.6,226.9 299.6,233.1 298.3,237.5 C297.0,241.9 294.5,244.7 292.8,248.4 C291.1,252.2 290.9,256.3 288.4,260.0 C285.8,263.7 279.7,267.5 277.5,270.6 C275.3,273.7 276.9,275.4 275.0,278.4 C273.1,281.3 269.2,285.9 266.3,288.3 C263.4,290.7 259.7,292.3 257.5,292.7 C255.3,293.1 256.0,289.9 253.1,290.5 C250.2,291.1 244.4,294.0 240.0,296.0 C235.6,298.0 231.3,301.2 226.9,302.5 C222.5,303.8 218.6,304.0 213.8,303.6 C209.1,303.2 202.8,301.0 198.4,300.3 C194.0,299.6 191.9,299.0 187.5,299.2 C183.1,299.4 176.6,299.9 172.2,301.4 L161.3,308.0 L150.0,330.0 L150.0,520.0 L620.0,520.0 L620.0,40.0 L328.0,40.0 Z"/>
<path fill="#fdd18a" d="M372.0,100.0 L371.6,114.7 L362.8,127.8 C360.6,131.8 359.3,134.8 358.4,138.8 C357.5,142.8 357.3,147.9 357.3,151.9 C357.3,155.9 357.5,159.7 358.4,163.0 C359.3,166.3 360.2,168.6 362.8,171.9 C365.4,175.2 370.9,179.9 373.8,182.8 C376.7,185.7 379.6,186.5 380.3,189.4 C381.0,192.3 377.7,197.0 378.1,200.3 C378.5,203.6 379.9,206.4 382.5,209.0 C385.1,211.6 388.3,214.5 393.4,215.6 C398.5,216.7 407.1,216.1 413.0,215.6 L428.5,212.3 L450.0,205.0 L470.0,100.0 L372.0,100.0 Z"/>
<path fill="#fdd18a" d="M338.8,200.3 C340.1,197.8 342.4,193.2 345.3,191.6 C348.2,190.0 353.0,189.6 356.3,190.5 C359.6,191.4 363.2,194.3 365.0,197.0 C366.8,199.7 367.6,203.8 367.2,206.9 C366.8,210.0 365.4,213.5 362.8,215.6 C360.2,217.7 355.5,220.0 351.9,219.6 C348.3,219.2 343.4,215.5 341.0,213.4 C338.6,211.3 338.1,209.1 337.7,206.9 C337.3,204.7 337.5,202.9 338.8,200.3 Z"/>
<path fill="#fdd18a" d="M360.0,204.0 C361.0,201.7 368.3,201.5 372.0,201.0 C375.7,200.5 379.7,199.7 382.0,201.0 C384.3,202.3 386.7,206.7 386.0,209.0 C385.3,211.3 381.3,214.0 378.0,215.0 C374.7,216.0 369.0,216.8 366.0,215.0 C363.0,213.2 359.0,206.3 360.0,204.0 Z"/>
<path fill="#fdd18a" d="M490.0,230.0 L478.8,253.0 L474.4,264.0 C471.8,267.3 467.5,270.2 463.5,272.8 C459.5,275.4 455.1,277.6 450.3,279.4 C445.6,281.2 439.7,282.5 435.0,283.8 C430.3,285.1 425.6,287.0 421.9,287.0 C418.2,287.0 417.0,284.7 413.0,283.8 C409.0,282.9 402.7,282.0 398.0,281.6 C393.3,281.2 388.0,281.2 384.7,281.6 C381.4,282.0 381.6,282.4 378.0,283.8 C374.4,285.2 366.4,287.4 362.8,290.3 C359.2,293.2 358.5,297.7 356.3,301.3 C354.1,304.9 351.9,308.6 349.7,312.2 C347.5,315.8 345.2,320.0 343.0,323.0 C340.8,326.0 338.8,326.9 336.3,330.0 L327.8,341.5 L321.0,335.3 C318.4,332.4 315.1,327.1 312.2,324.4 C309.3,321.7 306.8,320.0 303.5,318.9 C300.2,317.8 297.2,317.6 292.5,317.8 C287.8,318.0 281.6,319.3 275.0,320.0 C268.4,320.7 260.4,320.7 253.1,322.2 L231.3,328.8 L215.0,330.0 L215.0,520.0 L620.0,520.0 L620.0,230.0 L490.0,230.0 Z"/>
<path fill="#fefec0" d="M384.7,158.8 C385.8,155.5 390.1,153.1 393.4,152.2 C396.7,151.3 400.4,151.1 404.4,153.3 C408.4,155.5 414.4,161.1 417.5,165.3 C420.6,169.5 422.6,174.4 423.0,178.4 C423.4,182.4 422.8,187.2 419.7,189.4 C416.6,191.6 408.8,193.1 404.4,191.6 C400.0,190.1 396.3,183.9 393.4,180.6 C390.5,177.3 388.3,175.5 386.9,171.9 C385.4,168.3 383.6,162.1 384.7,158.8 Z"/>
<path fill="#fefec0" d="M500.0,235.0 L496.3,240.0 L487.5,261.9 C484.6,267.4 482.1,269.8 478.8,272.8 C475.5,275.8 470.0,276.4 467.8,280.0 C465.6,283.6 467.8,290.6 465.4,294.2 C463.0,297.8 458.7,299.9 453.6,301.3 C448.5,302.7 441.8,302.3 434.7,302.5 C427.6,302.7 418.1,302.3 411.0,302.5 C403.9,302.7 397.9,302.3 392.0,303.7 C386.1,305.1 379.4,307.6 375.5,310.8 C371.6,314.0 369.8,318.7 368.4,322.6 C367.0,326.5 366.0,330.8 367.2,334.4 C368.4,337.9 373.7,340.3 375.5,343.9 C377.3,347.4 378.7,351.8 377.9,355.7 C377.1,359.6 375.1,364.8 370.8,367.6 C366.5,370.4 359.3,372.0 351.8,372.3 C344.3,372.6 333.6,370.4 325.6,369.4 C317.6,368.3 309.6,367.1 303.8,366.0 C298.0,364.9 293.2,366.3 291.0,363.0 C288.8,359.7 291.5,349.0 290.5,346.0 C289.5,343.0 288.8,344.2 285.0,345.0 C281.2,345.8 273.8,349.1 268.0,351.0 C262.2,352.9 255.1,354.9 250.0,356.4 C244.9,357.9 240.9,358.9 237.6,360.2 L230.0,364.0 L220.0,367.0 L220.0,520.0 L620.0,520.0 L620.0,235.0 L500.0,235.0 Z"/>
<path fill="#d4ebf3" d="M510.0,240.0 L500.6,246.6 L498.4,253.0 C496.6,256.3 492.4,261.8 489.7,266.3 C487.0,270.8 485.2,275.4 482.0,280.0 C478.8,284.6 471.8,290.6 470.2,294.2 C468.6,297.8 474.5,298.9 472.5,301.3 C470.5,303.7 464.6,307.0 458.3,308.4 C452.0,309.8 441.4,309.6 434.7,309.6 C428.0,309.6 422.8,307.0 418.1,308.4 C413.4,309.8 410.2,314.8 406.3,317.9 C402.4,321.0 397.6,323.8 394.4,327.3 C391.2,330.9 388.9,334.9 387.3,339.2 C385.7,343.5 386.2,349.1 385.0,353.4 C383.8,357.7 383.8,361.6 380.2,365.2 C376.6,368.8 370.4,371.9 363.7,374.7 C357.0,377.5 347.1,379.8 340.0,381.8 C332.9,383.8 328.4,386.3 321.3,386.9 C314.2,387.5 304.1,385.3 297.7,385.2 C291.3,385.1 288.1,385.7 282.7,386.5 C277.3,387.3 270.2,388.8 265.2,390.2 C260.2,391.6 256.0,393.4 252.6,395.0 L245.0,400.0 L240.0,520.0 L620.0,520.0 L620.0,240.0 L510.0,240.0 Z"/>
<path fill="#91c3de" d="M520.0,250.0 L502.8,251.0 L505.0,261.9 C503.9,264.8 499.6,266.6 496.3,268.4 C493.0,270.2 487.5,270.2 485.3,272.8 C483.1,275.4 482.8,282.6 483.0,283.8 C483.2,285.0 485.7,276.7 486.7,280.0 C487.7,283.3 491.1,298.0 489.1,303.7 C487.1,309.4 480.8,311.9 474.9,314.3 C469.0,316.7 459.5,317.3 453.6,317.9 C447.7,318.5 444.1,317.5 439.4,317.9 C434.7,318.3 430.3,318.6 425.2,320.2 C420.1,321.8 413.7,324.5 408.6,327.3 C403.5,330.1 397.1,332.9 394.4,336.8 C391.6,340.8 392.9,345.9 392.1,351.0 C391.3,356.1 391.7,362.9 389.7,367.6 C387.7,372.3 383.0,375.8 380.2,379.4 C377.4,382.9 374.9,385.5 373.1,388.9 C371.3,392.3 373.0,395.3 369.6,400.0 C366.2,404.7 355.9,413.4 352.7,416.9 C349.5,420.4 348.8,419.4 350.6,421.1 C352.4,422.9 360.8,424.9 363.3,427.4 C365.8,429.9 366.1,433.8 365.4,435.9 L359.0,440.0 L350.0,540.0 L620.0,540.0 L620.0,250.0 L520.0,250.0 Z"/>
<path fill="#4d81bb" d="M515.1,298.9 C515.9,295.7 519.8,292.2 522.2,291.8 C524.6,291.4 527.3,292.7 529.3,296.6 C531.3,300.6 534.4,311.9 534.0,315.5 C533.6,319.1 529.8,318.7 527.0,317.9 C524.2,317.1 519.5,314.0 517.5,310.8 C515.5,307.6 514.3,302.1 515.1,298.9 Z"/>
<path fill="#4d81bb" d="M418.1,339.2 C420.1,335.6 428.8,331.1 434.7,329.7 C440.6,328.3 447.3,329.7 453.6,330.9 C459.9,332.1 468.2,336.8 472.5,336.8 C476.8,336.8 478.0,329.3 479.6,330.9 C481.2,332.5 480.3,342.6 482.0,346.3 L490.0,353.0 L560.0,360.0 L560.0,520.0 L470.0,480.0 L447.7,479.1 C440.5,478.1 432.9,476.1 426.6,473.8 C420.3,471.5 413.6,468.9 409.7,465.4 C405.8,461.9 406.2,456.6 403.4,452.7 C400.6,448.8 394.9,446.1 392.8,442.2 C390.7,438.3 392.3,433.7 390.7,429.5 C389.1,425.3 384.4,421.8 383.3,416.9 C382.2,412.0 383.7,403.9 384.4,400.0 C385.1,396.1 386.4,397.8 387.3,393.6 C388.2,389.4 387.7,381.0 389.7,374.7 C391.7,368.4 395.6,358.9 399.2,355.7 C402.8,352.5 407.1,356.5 411.0,355.7 C414.9,354.9 421.6,353.8 422.8,351.0 C424.0,348.2 416.1,342.8 418.1,339.2 Z"/>
<path fill="#313695" d="M413.4,379.4 C416.2,376.2 425.6,373.7 432.3,372.3 C439.0,370.9 448.5,371.1 453.6,371.1 L463.1,372.3 L480.0,372.0 L470.0,420.0 L448.7,400.0 C444.6,398.4 446.8,407.7 445.6,410.5 C444.4,413.3 441.4,414.4 441.4,416.9 C441.4,419.4 446.0,421.8 445.6,425.3 C445.2,428.8 442.0,435.9 439.2,438.0 C436.4,440.1 431.8,439.4 428.7,438.0 C425.6,436.6 421.7,432.7 420.3,429.5 C418.9,426.3 422.1,422.5 420.3,419.0 C418.5,415.5 411.6,410.8 409.7,408.4 C407.8,406.0 407.9,407.2 408.8,404.4 C409.7,401.5 414.5,395.5 415.3,391.3 C416.1,387.1 410.6,382.6 413.4,379.4 Z"/>
<path fill="#dd3d2d" d="M397.8,249.0 C400.5,245.7 407.9,244.8 413.0,242.0 C418.1,239.2 424.1,233.8 428.5,232.0 C432.9,230.2 437.4,230.1 439.4,231.0 C441.4,231.9 441.1,235.0 440.5,237.5 C439.9,240.0 437.3,243.4 436.0,246.0 C434.7,248.6 433.9,250.0 432.8,253.0 C431.7,256.0 431.7,261.8 429.5,264.0 C427.3,266.2 423.9,266.1 419.7,266.3 C415.5,266.5 408.2,265.9 404.4,265.2 C400.6,264.5 397.8,264.7 396.7,262.0 C395.6,259.3 395.1,252.3 397.8,249.0 Z"/>
<path fill="#dd3d2d" d="M290.6,292.5 C292.4,291.8 299.1,291.1 303.8,290.3 C308.5,289.6 314.3,288.6 319.0,288.0 C323.7,287.4 328.2,286.4 332.2,287.0 C336.2,287.6 343.0,289.2 343.0,291.6 C343.0,294.0 335.1,298.7 332.2,301.3 C329.3,303.9 327.4,307.7 325.6,307.0 C323.8,306.3 323.5,298.9 321.3,296.9 C319.1,294.8 317.2,295.1 312.5,294.7 C307.8,294.3 296.4,295.1 292.8,294.7 C289.2,294.3 288.8,293.2 290.6,292.5 Z"/>
<path fill="#a50026" d="M179.0,129.0 L168.0,133.0 C165.2,134.8 162.7,137.5 162.0,140.0 C161.3,142.5 162.7,146.0 164.0,148.0 C165.3,150.0 165.7,152.5 170.0,152.0 C174.3,151.5 183.0,147.8 190.0,145.0 C197.0,142.2 203.7,137.2 212.0,135.0 C220.3,132.8 232.0,133.2 240.0,132.0 C248.0,130.8 254.8,130.0 260.0,127.8 C265.2,125.6 268.1,122.3 271.0,119.0 C273.9,115.7 275.9,111.6 277.5,108.0 C279.1,104.4 280.4,100.8 280.8,97.2 C281.2,93.6 280.8,90.0 279.7,86.3 L274.2,75.3 L250.0,55.0 L185.0,110.0 L179.0,129.0 Z"/>
<path fill="#a50026" d="M24.0,184.7 C25.6,182.1 29.5,176.8 32.8,173.7 C36.1,170.6 39.0,167.6 43.8,166.0 C48.5,164.4 55.8,163.8 61.3,164.0 C66.8,164.2 72.2,165.0 76.6,167.0 C81.0,169.0 83.3,172.6 87.5,176.0 C91.7,179.4 96.0,184.5 102.0,187.5 C108.0,190.5 116.8,192.7 123.7,194.0 C130.6,195.3 139.8,196.5 143.4,195.2 C147.1,193.9 143.8,188.1 145.6,186.4 C147.4,184.8 150.8,184.9 154.4,185.3 C158.1,185.7 163.8,186.4 167.5,188.6 C171.2,190.8 173.8,195.5 176.3,198.4 C178.9,201.3 179.9,204.3 182.8,206.0 C185.7,207.7 190.2,208.8 193.8,208.3 C197.5,207.8 201.1,204.8 204.7,202.8 C208.3,200.8 211.6,197.4 215.6,196.3 C219.6,195.2 223.7,196.0 228.8,196.3 C233.9,196.7 241.9,197.0 246.3,198.4 C250.7,199.8 252.8,202.1 255.0,205.0 C257.2,207.9 258.8,212.3 259.4,216.0 C259.9,219.7 259.4,223.6 258.3,226.9 C257.2,230.2 254.8,233.1 252.8,235.6 C250.8,238.1 249.6,239.6 246.3,242.2 C243.0,244.8 237.4,248.4 233.0,251.0 C228.6,253.6 223.6,255.7 220.0,257.5 C216.4,259.3 214.2,261.6 211.3,262.0 C208.4,262.4 205.4,260.6 202.5,259.7 C199.6,258.8 197.5,257.1 193.8,256.4 C190.2,255.7 184.2,256.6 180.6,255.3 C177.0,254.0 174.2,252.1 172.0,248.8 C169.8,245.5 167.9,238.9 167.5,235.6 C167.1,232.3 170.1,231.0 169.7,229.0 C169.3,227.0 168.2,225.0 165.3,223.6 C162.4,222.2 157.7,220.9 152.2,220.3 C146.7,219.8 137.2,221.4 132.5,220.3 C127.8,219.2 126.7,213.8 123.8,213.8 C120.9,213.8 116.8,217.8 115.0,220.3 C113.2,222.8 113.5,226.4 112.8,229.0 C112.1,231.6 112.1,234.5 110.6,236.0 L104.0,238.0 L90.0,240.0 L50.0,245.0 L46.0,230.6 C44.6,226.4 43.8,223.7 41.6,219.7 C39.4,215.7 35.4,211.0 32.8,206.6 C30.2,202.2 27.6,196.3 26.0,193.4 C24.4,190.5 23.8,190.4 23.5,189.0 C23.2,187.6 22.4,187.2 24.0,184.7 Z"/>
</g>
<use href="#lines"/>
<use href="#ol" fill="none" stroke="#262626" stroke-width="1.8" stroke-linejoin="round"/>
</g>
<!-- right map -->
<g transform="translate(640,0)">
<g clip-path="url(#clip)">
<use href="#ol" fill="#fba75f"/>
<path fill="#fed78d" d="M5.0,140.0 L140.0,95.0 L143.3,123.4 L143.3,131.1 C141.3,131.8 134.8,128.7 131.3,127.8 C127.8,126.9 125.4,125.2 122.5,125.6 C119.6,126.0 117.1,128.0 113.8,130.0 C110.5,132.0 106.4,137.1 102.8,137.7 C99.2,138.2 96.3,133.1 91.9,133.3 C87.5,133.5 81.0,136.6 76.6,138.8 C72.2,141.0 68.9,146.2 65.6,146.4 C62.3,146.6 60.5,140.8 56.9,139.9 C53.3,139.0 47.1,139.3 43.8,141.0 C40.5,142.7 39.0,147.0 37.2,150.0 C35.4,153.0 35.3,155.5 32.8,158.8 C30.2,162.1 24.1,166.8 21.9,169.7 L19.7,176.3 L5.0,176.0 L5.0,140.0 Z"/>
<path fill="#fed78d" d="M17.0,186.0 L19.7,187.2 C21.6,187.8 25.5,187.2 28.4,189.4 C31.3,191.6 35.7,197.0 37.2,200.3 C38.7,203.6 38.7,206.8 37.2,209.0 C35.7,211.2 31.7,213.0 28.4,213.4 L17.5,211.3 L5.0,200.0 L17.0,186.0 Z"/>
<path fill="#fed78d" d="M422.0,115.0 L423.8,130.0 C423.8,135.3 423.8,143.0 421.9,146.9 C420.0,150.8 417.5,152.9 412.5,153.4 C407.5,153.9 397.2,149.5 391.9,149.7 C386.6,149.9 383.1,151.4 380.6,154.4 C378.1,157.4 377.8,163.1 376.9,167.5 C376.0,171.9 379.1,178.1 375.0,180.6 C370.9,183.1 359.4,181.9 352.5,182.5 C345.6,183.1 338.2,182.5 333.8,184.4 C329.4,186.3 328.8,190.4 326.3,193.8 C323.8,197.2 322.2,202.8 318.8,205.0 C315.4,207.2 306.9,205.0 305.6,206.9 C304.4,208.8 309.8,211.9 311.3,216.3 C312.8,220.7 312.3,231.0 314.7,233.1 C317.1,235.2 320.9,229.2 325.6,228.8 C330.3,228.5 337.9,229.7 343.0,231.0 C348.1,232.3 351.9,235.3 356.3,236.4 C360.7,237.5 363.6,238.4 369.4,237.5 C375.2,236.6 384.0,232.6 391.3,231.0 C398.6,229.4 406.6,229.5 413.1,227.7 L430.6,220.0 L470.0,150.0 L422.0,115.0 Z"/>
<path fill="#fed78d" d="M277.5,206.9 C278.4,205.8 281.8,202.7 284.0,202.5 C286.2,202.3 290.2,204.5 290.6,205.8 C291.0,207.1 288.3,209.7 286.3,210.2 C284.3,210.7 280.1,209.6 278.6,209.0 C277.1,208.4 276.6,208.0 277.5,206.9 Z"/>
<path fill="#fed78d" d="M386.0,332.8 C387.4,328.8 389.2,323.3 392.5,319.7 C395.8,316.1 401.6,313.2 405.6,311.0 C409.6,308.8 412.6,305.5 416.6,306.6 C420.6,307.7 425.0,312.0 429.7,317.5 C434.4,323.0 443.2,334.6 445.0,339.4 C446.8,344.1 442.8,343.4 440.6,346.0 C438.4,348.6 434.1,351.4 431.9,354.7 C429.7,358.0 428.2,361.6 427.5,365.6 C426.8,369.6 428.9,375.2 427.5,378.8 C426.1,382.4 422.1,384.2 418.8,387.5 C415.5,390.8 411.5,396.6 407.8,398.4 C404.1,400.2 399.4,400.9 396.9,398.4 C394.3,395.8 394.0,389.3 392.5,383.1 C391.0,376.9 389.6,367.9 388.1,361.3 C386.7,354.8 384.2,348.6 383.8,343.8 C383.4,339.1 384.6,336.8 386.0,332.8 Z"/>
<path fill="#fed78d" d="M424.4,466.6 C425.8,463.0 429.5,458.5 433.1,455.6 C436.8,452.7 441.9,450.3 446.3,449.0 C450.7,447.7 455.8,445.8 459.4,448.0 L468.1,462.2 L475.0,470.0 L463.8,477.5 L450.6,481.9 C444.8,483.4 433.2,487.0 428.8,486.3 C424.4,485.6 425.1,480.8 424.4,477.5 C423.7,474.2 422.9,470.2 424.4,466.6 Z"/>
<path fill="#fed78d" d="M158.0,308.0 L166.0,311.0 C168.5,312.0 172.7,312.2 173.0,314.0 C173.3,315.8 170.2,320.8 168.0,322.0 L160.0,321.0 L158.0,308.0 Z"/>
<path fill="#fed78d" d="M398.0,390.0 C399.5,388.7 407.7,387.7 409.0,389.0 C410.3,390.3 407.5,396.7 406.0,398.0 C404.5,399.3 401.3,398.3 400.0,397.0 C398.7,395.7 396.5,391.3 398.0,390.0 Z"/>
<path fill="#ffffc4" d="M398.5,166.0 C398.7,164.8 401.0,164.2 402.0,164.5 C403.0,164.8 404.7,166.8 404.5,168.0 C404.3,169.2 402.0,171.8 401.0,171.5 C400.0,171.2 398.3,167.2 398.5,166.0 Z"/>
<path fill="#ffffc4" d="M404.0,205.0 C404.0,202.6 408.9,196.7 411.0,197.0 C413.1,197.3 416.4,204.6 416.4,207.0 C416.4,209.4 413.1,211.6 411.0,211.3 C408.9,211.0 404.0,207.4 404.0,205.0 Z"/>
<path fill="#f46d43" d="M168.5,134.4 C170.5,132.2 175.4,130.4 179.4,130.0 C183.4,129.6 190.3,130.0 192.5,132.2 C194.7,134.4 193.6,140.2 192.5,143.1 C191.4,146.0 189.7,148.6 186.0,149.7 C182.3,150.8 173.7,150.8 170.6,149.7 C167.5,148.6 167.8,145.6 167.4,143.1 C167.1,140.6 166.5,136.6 168.5,134.4 Z"/>
<path fill="#f46d43" d="M109.4,162.8 C110.0,160.8 111.2,157.2 113.8,156.3 C116.3,155.4 122.5,156.7 124.7,157.4 C126.9,158.1 128.0,159.0 126.9,160.6 C125.8,162.2 120.8,165.9 118.1,167.2 C115.4,168.5 112.0,169.0 110.5,168.3 C109.0,167.6 108.9,164.8 109.4,162.8 Z"/>
<path fill="#f46d43" d="M255.0,95.0 L258.2,99.4 L264.7,108.1 C266.9,110.8 268.0,113.0 271.3,115.3 C274.6,117.6 279.3,121.9 284.4,121.9 C289.5,121.9 297.8,118.0 301.9,115.3 C306.0,112.6 308.5,109.0 309.2,106.0 C309.9,103.0 308.4,100.1 306.0,97.2 C303.6,94.3 299.4,90.4 295.0,88.4 L279.7,85.2 L273.0,75.3 L260.0,70.0 L255.0,95.0 Z"/>
<path fill="#f46d43" d="M201.4,200.4 C203.7,194.9 204.7,190.1 207.0,186.6 C209.3,183.1 212.0,181.1 215.2,179.7 C218.4,178.3 222.2,177.2 226.3,178.3 C230.5,179.5 235.9,183.8 240.1,186.6 C244.2,189.4 248.2,191.7 251.2,194.9 C254.2,198.1 257.2,202.2 258.1,205.9 C259.0,209.6 255.5,213.8 256.7,217.0 C257.8,220.2 261.3,223.6 265.0,225.2 C268.7,226.8 274.2,226.6 278.8,226.6 C283.4,226.6 289.4,224.5 292.6,225.2 C295.8,225.9 297.2,227.6 298.1,230.8 C299.0,234.0 299.0,240.0 298.1,244.6 C297.2,249.2 294.9,253.8 292.6,258.4 C290.3,263.0 286.6,267.9 284.3,272.2 L279.0,284.0 L284.0,291.0 L289.8,286.0 L303.6,275.0 C307.8,269.5 311.0,256.1 314.7,252.9 C318.4,249.7 322.0,253.8 325.7,255.6 C329.4,257.4 332.2,260.7 336.8,263.9 C341.4,267.1 349.1,274.4 353.4,275.0 C357.7,275.6 359.4,269.8 362.8,267.2 C366.2,264.6 369.8,260.6 373.8,259.5 C377.8,258.4 384.7,258.6 386.9,260.6 C389.1,262.6 387.6,269.0 386.9,271.6 C386.2,274.2 382.1,274.2 382.5,276.0 C382.9,277.8 387.9,279.9 389.0,282.5 C390.1,285.1 390.8,288.0 389.0,291.3 C387.2,294.6 381.0,300.8 378.1,302.2 C375.2,303.6 373.2,297.8 371.6,300.0 C370.0,302.2 368.2,309.5 368.4,315.3 C368.6,321.1 370.6,329.5 372.8,335.0 C375.0,340.5 380.1,343.0 381.6,348.1 C383.1,353.2 382.7,359.8 381.6,365.6 C380.5,371.4 377.6,377.3 375.0,383.1 C372.4,388.9 369.4,396.5 366.3,400.6 C363.2,404.7 360.4,405.6 356.6,407.5 C352.8,409.4 347.4,412.6 343.4,411.9 C339.4,411.2 335.1,406.8 332.5,403.1 L328.1,390.0 L322.5,383.1 L310.0,370.0 L302.8,365.6 L300.6,354.7 C300.6,349.2 303.5,339.7 302.8,332.8 C302.1,325.9 298.9,318.6 296.3,313.1 C293.8,307.6 290.9,303.6 287.5,300.0 C284.1,296.4 279.8,293.4 276.0,291.5 C272.2,289.6 268.7,289.7 265.0,288.8 C261.3,287.9 258.5,286.0 253.9,286.0 C249.3,286.0 241.9,286.9 237.3,288.8 C232.7,290.7 230.0,295.3 226.3,297.1 C222.6,298.9 219.8,299.8 215.2,299.8 C210.6,299.8 204.2,299.9 198.7,297.1 C193.2,294.4 186.7,288.8 182.1,283.3 C177.5,277.8 172.4,269.0 171.0,263.9 C169.6,258.8 171.5,257.1 173.8,252.9 C176.1,248.8 181.7,244.5 184.9,239.0 C188.1,233.5 190.3,226.1 193.1,219.7 C195.8,213.3 199.1,205.9 201.4,200.4 Z"/>
<path fill="#f46d43" d="M446.0,222.0 L446.0,230.0 C445.6,235.0 445.6,245.7 443.8,251.9 C442.0,258.1 437.6,262.8 435.0,267.2 C432.4,271.6 429.2,273.4 428.5,278.1 C427.8,282.8 428.6,291.1 430.6,295.6 C432.6,300.1 438.6,302.4 440.6,305.0 C442.6,307.6 439.9,308.2 442.8,311.0 C445.7,313.8 454.1,317.5 458.1,321.9 C462.1,326.3 465.8,331.7 466.9,337.2 C468.0,342.7 465.8,350.0 464.7,354.7 L460.3,365.6 L540.0,370.0 L540.0,222.0 L446.0,222.0 Z"/>
<path fill="#f46d43" d="M153.1,224.4 C154.6,221.5 159.0,211.8 161.9,210.2 C164.8,208.5 169.2,212.1 170.6,214.5 C172.0,216.9 172.0,221.1 170.6,224.4 C169.2,227.7 164.8,233.6 161.9,234.2 C159.0,234.8 154.6,229.3 153.1,227.7 C151.6,226.1 151.6,227.3 153.1,224.4 Z"/>
<path fill="#f46d43" d="M391.0,255.0 C390.7,254.0 394.8,252.2 397.0,252.0 C399.2,251.8 403.7,253.0 404.0,254.0 C404.3,255.0 401.2,257.8 399.0,258.0 C396.8,258.2 391.3,256.0 391.0,255.0 Z"/>
<path fill="#f46d43" d="M398.0,274.0 C398.2,273.1 400.8,271.6 402.0,271.6 C403.2,271.6 405.7,273.1 405.5,274.0 C405.3,274.9 402.2,277.0 401.0,277.0 C399.8,277.0 397.8,274.9 398.0,274.0 Z"/>
<path fill="#f46d43" d="M357.0,435.0 C357.2,432.7 361.2,427.3 363.0,427.0 C364.8,426.7 368.2,430.7 368.0,433.0 C367.8,435.3 363.8,440.7 362.0,441.0 C360.2,441.3 356.8,437.3 357.0,435.0 Z"/>
<path fill="#f46d43" d="M72.0,197.0 C72.4,195.7 74.4,195.0 75.0,196.0 C75.6,197.0 75.9,201.7 75.5,203.0 C75.1,204.3 73.1,204.6 72.5,203.6 C71.9,202.6 71.6,198.3 72.0,197.0 Z"/>
<path fill="#d93a2d" d="M232.1,207.3 C233.0,205.9 236.2,206.3 237.6,206.6 C239.0,206.9 240.2,207.7 240.4,209.3 C240.6,210.9 238.2,214.0 239.0,216.3 C239.8,218.6 243.7,220.7 245.2,223.2 C246.7,225.7 247.4,228.5 248.0,231.5 C248.6,234.5 247.0,239.0 248.7,241.1 L258.4,243.9 L257.0,246.0 L239.0,248.0 C234.4,247.7 231.2,247.1 229.3,243.9 C227.4,240.7 227.3,232.8 227.3,228.7 C227.3,224.5 228.5,221.3 229.3,219.0 C230.1,216.7 231.6,216.8 232.1,214.9 C232.6,213.0 231.2,208.7 232.1,207.3 Z"/>
<path fill="#d93a2d" d="M315.0,295.0 C318.1,290.4 325.8,291.5 330.0,292.0 C334.2,292.5 337.6,295.6 340.0,298.0 C342.4,300.4 341.8,303.4 344.4,306.6 C346.9,309.9 353.1,312.8 355.3,317.5 C357.5,322.2 354.6,329.9 357.5,335.0 C360.4,340.1 369.9,344.1 372.8,348.1 C375.7,352.1 376.1,355.7 375.0,359.0 C373.9,362.3 371.4,365.6 366.3,367.8 C361.2,370.0 350.2,372.2 344.4,372.2 C338.6,372.2 334.9,370.7 331.3,367.8 C327.7,364.9 324.3,359.8 322.5,354.7 C320.7,349.6 322.1,343.0 320.3,337.2 C318.5,331.4 312.5,326.7 311.6,319.7 C310.7,312.7 311.9,299.6 315.0,295.0 Z"/>
<path fill="#d93a2d" d="M481.0,284.7 C481.7,281.1 486.4,276.4 489.7,273.8 C493.0,271.2 498.1,268.7 500.6,269.4 C503.2,270.1 502.1,275.9 505.0,278.1 C507.9,280.3 515.3,280.7 518.2,282.5 C521.1,284.3 523.2,286.8 522.5,289.0 C521.8,291.2 515.6,292.7 513.8,295.6 C512.0,298.5 510.9,303.0 511.6,306.6 C512.3,310.2 517.8,314.2 518.2,317.5 C518.6,320.8 515.6,322.6 513.8,326.3 C512.0,330.1 509.5,336.1 507.2,340.0 C504.9,343.9 502.9,349.2 500.0,350.0 C497.1,350.8 491.7,349.7 490.0,345.0 C488.3,340.3 489.4,328.3 489.7,321.9 C490.0,315.5 492.6,311.0 491.9,306.6 C491.2,302.2 487.1,299.2 485.3,295.6 C483.5,292.0 480.3,288.3 481.0,284.7 Z"/>
<path fill="#d93a2d" d="M461.3,295.6 C462.8,293.6 467.1,292.3 470.0,292.3 C472.9,292.3 477.3,293.6 478.8,295.6 C480.3,297.6 480.1,301.8 478.8,304.4 C477.5,307.0 474.0,311.0 471.1,311.0 C468.2,311.0 462.9,307.0 461.3,304.4 C459.7,301.8 459.9,297.6 461.3,295.6 Z"/>
<path fill="#a50026" d="M322.5,317.5 C324.1,314.9 329.9,312.4 333.4,313.1 C336.9,313.8 343.6,319.7 343.3,321.9 C343.0,324.1 334.6,325.2 331.3,326.3 C328.0,327.4 325.1,329.9 323.6,328.4 C322.1,326.9 320.9,320.1 322.5,317.5 Z"/>
<path fill="#a50026" d="M498.0,284.0 C498.3,282.5 503.2,278.8 505.0,279.0 C506.8,279.2 509.3,283.5 509.0,285.0 C508.7,286.5 504.8,288.2 503.0,288.0 C501.2,287.8 497.7,285.5 498.0,284.0 Z"/>
</g>
<use href="#lines"/>
<use href="#ol" fill="none" stroke="#262626" stroke-width="1.8" stroke-linejoin="round"/>
</g>
<use href="#logo"/>
<use href="#logo" x="640"/>
<!-- legends -->
<g>
<rect x="563" y="96" width="26" height="44" fill="#a50026"/>
<rect x="563" y="140" width="26" height="44" fill="#dd3d2d"/>
<rect x="563" y="184" width="26" height="44" fill="#f88d52"/>
<rect x="563" y="228" width="26" height="44" fill="#fdd18a"/>
<rect x="563" y="272" width="26" height="44" fill="#fefec0"/>
<rect x="563" y="316" width="26" height="44" fill="#d4ebf3"/>
<rect x="563" y="360" width="26" height="44" fill="#91c3de"/>
<rect x="563" y="404" width="26" height="44" fill="#4d81bb"/>
<rect x="563" y="448" width="26" height="43.3" fill="#313695"/>
</g>
<g>
<rect x="1203" y="96" width="26" height="65.9" fill="#a50026"/>
<rect x="1203" y="161.9" width="26" height="65.9" fill="#d93a2d"/>
<rect x="1203" y="227.8" width="26" height="65.9" fill="#f46d43"/>
<rect x="1203" y="293.7" width="26" height="65.9" fill="#fca55d"/>
<rect x="1203" y="359.6" width="26" height="65.9" fill="#fed78d"/>
<rect x="1203" y="425.5" width="26" height="65.9" fill="#ffffc4"/>
</g>
<circle cx="619.8" cy="67" r="1.9" fill="none" stroke="#000" stroke-width="1.1"/><circle cx="1259.5" cy="66.4" r="1.9" fill="none" stroke="#000" stroke-width="1.1"/>
</svg>
<div class="t b" style="left:79px;top:18.6px;">Dagelijkse minimumtemperatuur</div>
<div class="t s" style="left:78px;top:41px;">gemiddelde februari 2023</div>
<div class="t b" style="left:719px;top:18.6px;">Afwijking van de normaalwaarde van de dagelijkse minimumtemperatuur</div>
<div class="t s" style="left:718px;top:41px;">gemiddelde februari 2023 in vergelijking met de maandelijkse normaalwaarde 1991-2020</div>
<div class="t b" style="left:623px;top:62.2px;font-size:14.2px;">C</div>
<div class="t b" style="left:1198.5px;top:62.2px;font-size:14.2px;">Verschil</div><div class="t b" style="left:1263.4px;top:62.2px;font-size:14.2px;">C</div>
<div class="lab" style="left:601px;top:90.1px;">3</div>
<div class="lab" style="left:601px;top:134.0px;">2.5</div>
<div class="lab" style="left:601px;top:177.9px;">2</div>
<div class="lab" style="left:601px;top:221.9px;">1.5</div>
<div class="lab" style="left:601px;top:265.8px;">1</div>
<div class="lab" style="left:601px;top:309.7px;">0.5</div>
<div class="lab" style="left:601px;top:353.6px;">0</div>
<div class="lab" style="left:601px;top:397.5px;">-0.5</div>
<div class="lab" style="left:601px;top:441.5px;">-1</div>
<div class="lab" style="left:601px;top:485.4px;">-1.5</div>
<div class="lab" style="left:1241px;top:90.1px;">3</div>
<div class="lab" style="left:1241px;top:156.0px;">2.5</div>
<div class="lab" style="left:1241px;top:221.9px;">2</div>
<div class="lab" style="left:1241px;top:287.7px;">1.5</div>
<div class="lab" style="left:1241px;top:353.6px;">1</div>
<div class="lab" style="left:1241px;top:419.5px;">0.5</div>
<div class="lab" style="left:1241px;top:485.4px;">0</div>
</body></html>
